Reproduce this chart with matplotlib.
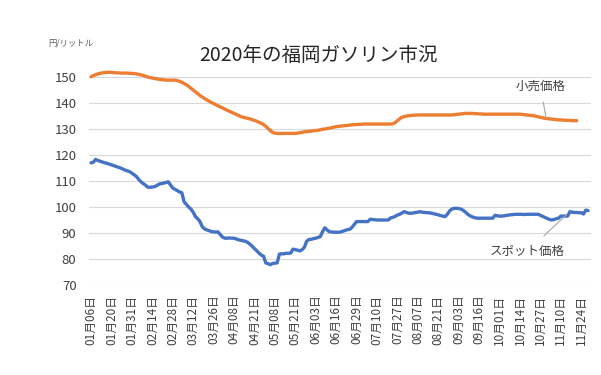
import numpy as np
import matplotlib
matplotlib.use("Agg")
import matplotlib.pyplot as plt

plt.rcParams['font.family'] = ['Noto Sans CJK JP', 'DejaVu Sans']

# 目盛りラベル（9営業日ごと）
tick_labels = ["01月06日", "01月20日", "01月31日", "02月14日", "02月28日",
               "03月12日", "03月26日", "04月08日", "04月21日", "05月08日",
               "05月21日", "06月03日", "06月16日", "06月29日", "07月10日",
               "07月27日", "08月07日", "08月21日", "09月03日", "09月16日",
               "10月01日", "10月14日", "10月27日", "11月10日", "11月24日"]
tick_step = 9

# スポット価格（円/リットル）
spot = [
    117.0, 117.2, 118.3, 117.9, 117.6, 117.3, 117.0, 116.8, 116.5, 116.2,
    115.9, 115.6, 115.3, 115.0, 114.6, 114.2, 113.9, 113.6, 113.0, 112.4,
    111.7, 110.6, 109.7, 109.0, 108.4, 107.6, 107.6, 107.7, 107.8, 108.3,
    108.8, 109.0, 109.2, 109.4, 109.7, 108.5, 107.3, 106.8, 106.3, 105.8,
    105.5, 102.0, 101.0, 100.0, 99.2, 98.0, 96.3, 95.5, 94.4, 92.4,
    91.6, 91.2, 90.9, 90.6, 90.4, 90.4, 90.4, 89.3, 88.4, 88.0,
    88.0, 88.1, 88.0, 88.0, 87.7, 87.4, 87.2, 87.0, 86.8, 86.4,
    85.7, 84.9, 84.0, 83.2, 82.3, 81.5, 81.1, 78.5, 78.2, 77.8,
    78.3, 78.4, 78.5, 81.9, 82.0, 82.0, 82.2, 82.2, 82.3, 83.8,
    83.6, 83.4, 83.1, 83.6, 84.5, 86.8, 87.5, 87.6, 87.8, 88.0,
    88.3, 88.6, 90.5, 92.0, 91.2, 90.5, 90.4, 90.3, 90.3, 90.3,
    90.4, 90.7, 91.0, 91.3, 91.4, 92.2, 93.3, 94.4, 94.4, 94.4,
    94.4, 94.4, 94.4, 95.3, 95.2, 95.1, 95.0, 95.0, 95.0, 95.0,
    95.0, 95.0, 95.8, 96.0, 96.4, 96.9, 97.2, 97.7, 98.2, 97.9,
    97.6, 97.6, 97.7, 97.9, 98.0, 98.2, 98.0, 97.9, 97.8, 97.8,
    97.6, 97.4, 97.2, 97.0, 96.7, 96.5, 96.3, 97.2, 98.5, 99.2,
    99.5, 99.5, 99.4, 99.2, 98.7, 98.0, 97.2, 96.6, 96.2, 95.9,
    95.7, 95.7, 95.7, 95.7, 95.7, 95.7, 95.7, 95.7, 96.8, 96.6,
    96.5, 96.5, 96.6, 96.8, 96.9, 97.0, 97.1, 97.2, 97.2, 97.2,
    97.2, 97.1, 97.2, 97.2, 97.2, 97.2, 97.2, 97.2, 96.8, 96.4,
    96.0, 95.6, 95.2, 95.0, 95.2, 95.5, 95.7, 96.5, 96.5, 96.5,
    96.5, 98.2, 98.0, 97.9, 97.9, 97.8, 97.8, 97.3, 98.8, 98.6,
]

# 小売価格（円/リットル）
retail = [
    150.1, 150.5, 150.9, 151.2, 151.4, 151.6, 151.7, 151.8, 151.8, 151.8,
    151.7, 151.6, 151.6, 151.5, 151.5, 151.5, 151.5, 151.4, 151.4, 151.3,
    151.2, 151.0, 150.8, 150.6, 150.3, 150.0, 149.8, 149.6, 149.4, 149.3,
    149.1, 149.0, 148.9, 148.8, 148.8, 148.8, 148.8, 148.8, 148.6, 148.3,
    148.0, 147.5, 147.0, 146.4, 145.7, 145.0, 144.3, 143.6, 142.9, 142.3,
    141.7, 141.2, 140.7, 140.2, 139.8, 139.3, 138.9, 138.5, 138.1, 137.6,
    137.2, 136.8, 136.4, 136.0, 135.6, 135.2, 134.8, 134.5, 134.3, 134.1,
    133.9, 133.6, 133.3, 133.0, 132.6, 132.2, 131.7, 131.0, 130.2, 129.4,
    128.7, 128.4, 128.3, 128.3, 128.3, 128.3, 128.3, 128.3, 128.3, 128.3,
    128.3, 128.4, 128.6, 128.7, 128.9, 129.0, 129.1, 129.2, 129.3, 129.4,
    129.5, 129.7, 129.9, 130.0, 130.2, 130.3, 130.5, 130.7, 130.9, 131.0,
    131.1, 131.2, 131.3, 131.4, 131.5, 131.6, 131.7, 131.7, 131.8, 131.8,
    131.9, 131.9, 131.9, 131.9, 131.9, 131.9, 131.9, 131.9, 131.9, 131.9,
    131.9, 131.9, 131.9, 132.0, 132.5, 133.2, 133.9, 134.5, 134.8, 135.0,
    135.1, 135.2, 135.3, 135.3, 135.4, 135.4, 135.4, 135.4, 135.4, 135.4,
    135.4, 135.4, 135.4, 135.4, 135.4, 135.4, 135.4, 135.4, 135.4, 135.4,
    135.5, 135.6, 135.7, 135.8, 135.9, 136.0, 136.0, 136.0, 136.0, 135.9,
    135.9, 135.8, 135.8, 135.7, 135.7, 135.7, 135.7, 135.7, 135.7, 135.7,
    135.7, 135.7, 135.7, 135.7, 135.7, 135.7, 135.7, 135.7, 135.7, 135.7,
    135.6, 135.5, 135.4, 135.3, 135.2, 135.1, 134.9, 134.7, 134.5, 134.3,
    134.1, 134.0, 133.9, 133.8, 133.7, 133.6, 133.5, 133.5, 133.4, 133.4,
    133.3, 133.3, 133.2, 133.2, 133.2,
]

fig = plt.figure(figsize=(6.01, 3.75), dpi=100)
ax = fig.add_axes([89/601, 1 - 285/375, 502/601, (285 - 69.2)/375])

ax.plot(np.arange(len(retail)), retail, color="#ED7D31", lw=2.4,
        solid_capstyle="round", zorder=3)
ax.plot(np.arange(len(spot)), spot, color="#4472C4", lw=2.4,
        solid_capstyle="round", zorder=3)

ax.set_xlim(-0.9, 220.3)
ax.set_ylim(70, 153)
ax.set_yticks(np.arange(70, 151, 10))
ax.set_xticks(np.arange(len(tick_labels)) * tick_step)
ax.set_xticklabels(tick_labels, rotation=90, fontsize=8.5, color="#404040")
ax.tick_params(axis="y", length=0, pad=9, labelsize=9.5, labelcolor="#404040")
ax.tick_params(axis="x", length=0, pad=7)
ax.grid(axis="y", color="#D9D9D9", lw=0.8)
ax.set_axisbelow(True)
for s in ax.spines.values():
    s.set_visible(False)

fig.text(318/601, 1 - 55/375, "2020年の福岡ガソリン市況", ha="center", va="center",
         fontsize=14, color="#262626")
fig.text(48/601, 1 - 43/375, "円/リットル", ha="left", va="center",
         fontsize=6, color="#595959")

# 系列ラベルと引き出し線
ax.annotate("小売価格", xy=(200.5, 134.3), xytext=(198, 146.5),
            ha="center", va="center", fontsize=9, color="#404040",
            arrowprops=dict(arrowstyle="-", color="#A6A6A6", lw=0.8,
                            shrinkA=5, shrinkB=0))
ax.annotate("スポット価格", xy=(209.5, 97.0), xytext=(192, 82.8),
            ha="center", va="center", fontsize=9, color="#404040",
            arrowprops=dict(arrowstyle="-", color="#A6A6A6", lw=0.8,
                            shrinkA=7, shrinkB=0))

fig.savefig("out.png", dpi=100)
